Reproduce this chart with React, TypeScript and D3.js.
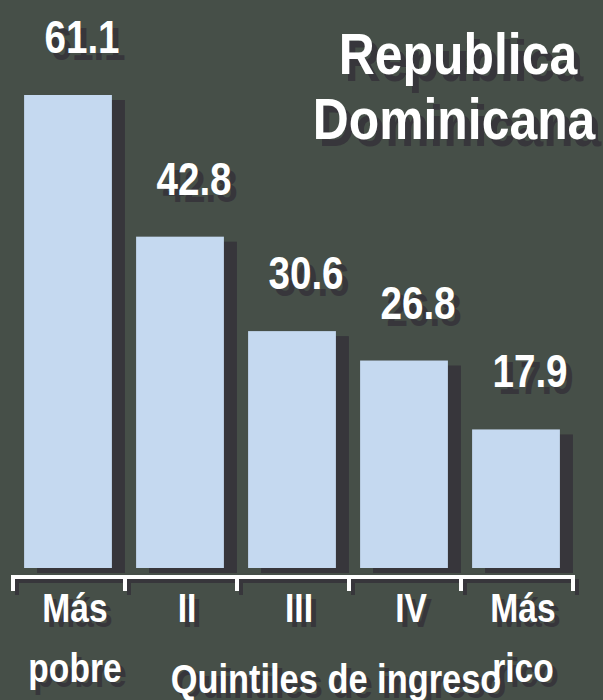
import React, { useRef, useEffect } from 'react';
import * as d3 from 'd3';

// income quintiles and % values
const quintiles = ['Más pobre', 'II', 'III', 'IV', 'Más rico'];
const quintileLines = [['Más', 'pobre'], ['II'], ['III'], ['IV'], ['Más', 'rico']];
const values = [61.1, 42.8, 30.6, 26.8, 17.9];
const titleLines = ['Republica', 'Dominicana'];
const axisTitle = 'Quintiles de ingreso';

const BG = '#464f48';
const BAR = '#c5d9f0';
const SHADOW = '#37363b';
const FONT = "'Liberation Sans', Arial, sans-serif";

const App = () => {
  const svgRef = useRef<SVGSVGElement>(null);

  useEffect(() => {
    const width = 603;
    const height = 700;
    const baseY = 568;

    const svg = d3.select(svgRef.current);
    svg.selectAll('*').remove();
    svg.attr('width', width).attr('height', height);

    svg.append('rect').attr('width', width).attr('height', height).attr('fill', BG);

    const x = d3.scaleBand<string>()
      .domain(quintiles)
      .range([12, 572])
      .paddingInner(0.216)
      .paddingOuter(0.108);

    const y = d3.scaleLinear()
      .domain([0, d3.max(values) as number])
      .range([baseY, 95]);

    // text with drop shadow, squeezed horizontally
    const shadowText = (txt: string, cx: number, by: number, size: number, sx: number, off: [number, number]) => {
      const g = svg.append('g');
      [[off[0], off[1], SHADOW], [0, 0, '#ffffff']].forEach(([dx, dy, col]) => {
        g.append('text')
          .attr('transform', `translate(${cx + (dx as number)},${by + (dy as number)}) scale(${sx},1)`)
          .attr('text-anchor', 'middle')
          .attr('font-family', FONT)
          .attr('font-weight', 'bold')
          .attr('font-size', size)
          .attr('fill', col as string)
          .text(txt);
      });
    };

    // bar shadows then bars
    svg.append('g').selectAll('rect')
      .data(values)
      .enter()
      .append('rect')
      .attr('x', (d, i) => (x(quintiles[i]) as number) + 13)
      .attr('y', d => y(d) + 5)
      .attr('width', x.bandwidth())
      .attr('height', d => baseY - y(d))
      .attr('fill', SHADOW);

    svg.append('g').selectAll('rect')
      .data(values)
      .enter()
      .append('rect')
      .attr('x', (d, i) => x(quintiles[i]) as number)
      .attr('y', d => y(d))
      .attr('width', x.bandwidth())
      .attr('height', d => baseY - y(d))
      .attr('fill', BAR);

    // bracket-style axis
    const step = x.step();
    const edges = quintiles.map(q => (x(q) as number) - step * 0.108);
    edges.push((x(quintiles[quintiles.length - 1]) as number) + x.bandwidth() + step * 0.108);

    const drawAxis = (dx: number, dy: number, col: string) => {
      const g = svg.append('g').attr('transform', `translate(${dx},${dy})`);
      g.append('line')
        .attr('x1', edges[0] - 1).attr('x2', edges[edges.length - 1] + 2)
        .attr('y1', 577).attr('y2', 577)
        .attr('stroke', col).attr('stroke-width', 4);
      g.selectAll('line.tick')
        .data(edges)
        .enter()
        .append('line')
        .attr('class', 'tick')
        .attr('x1', d => d + 1).attr('x2', d => d + 1)
        .attr('y1', 575).attr('y2', 591)
        .attr('stroke', col).attr('stroke-width', 4);
    };
    drawAxis(4, 4, SHADOW);
    drawAxis(0, 0, '#ffffff');

    // value labels
    values.forEach((v, i) => {
      const cx = (x(quintiles[i]) as number) + x.bandwidth() / 2 + 14;
      shadowText(v.toFixed(1), cx, y(v) - 42, 46, 0.84, [6, 7]);
    });

    // category labels
    quintileLines.forEach((lines, i) => {
      const cx = (x(quintiles[i]) as number) + x.bandwidth() / 2 + 7;
      lines.forEach((ln, j) => {
        shadowText(ln, cx, 622 + j * 60, 40, 0.84, [5, 5]);
      });
    });

    shadowText(axisTitle, 336, 693, 40, 0.86, [5, 5]);

    // title
    shadowText(titleLines[0], 458, 74, 58, 0.86, [6, 7]);
    shadowText(titleLines[1], 454, 139, 58, 0.86, [6, 7]);
  }, []);

  return (
    <svg ref={svgRef} style={{ position: 'absolute', left: 0, top: 0, display: 'block' }} />
  );
};

export default App;
